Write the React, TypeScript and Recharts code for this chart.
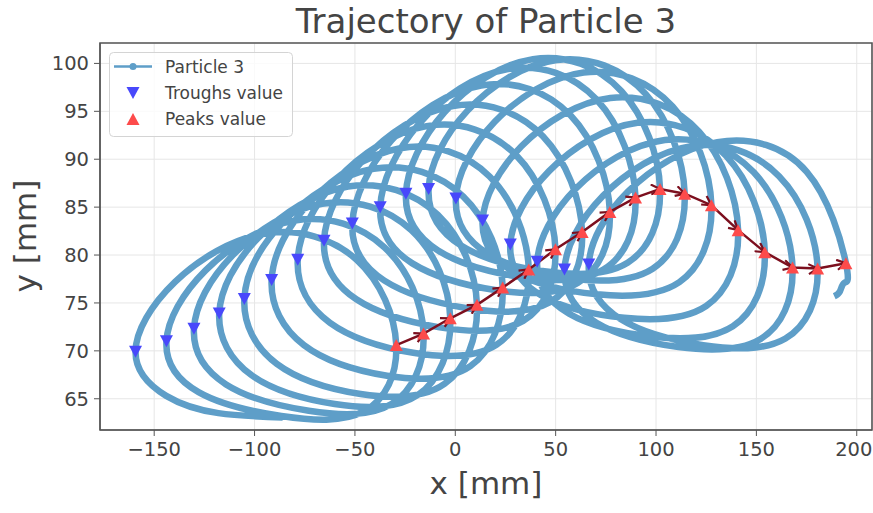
import React from "react";
import {
  ComposedChart,
  Line,
  Scatter,
  XAxis,
  YAxis,
  CartesianGrid,
  Legend,
  ReferenceArea,
} from "recharts";

// markers
const troughX = [-159.3, -143.9, -130.2, -117.6, -105.1, -91.5, -78.5, -65.4, -51.3, -37.4, -24.6, -13.3, 0.3, 13.6, 27.4, 40.8, 54.4, 66.5];
const troughY = [69.9, 71.0, 72.3, 73.9, 75.4, 77.4, 79.5, 81.5, 83.3, 85.0, 86.4, 86.9, 85.9, 83.6, 81.1, 79.3, 78.5, 79.0];
const peakX = [-29.4, -15.8, -2.5, 10.8, 23.6, 36.6, 49.9, 63.2, 77.0, 89.8, 102.0, 114.3, 127.6, 140.9, 154.2, 168.0, 180.5, 194.6];
const peakY = [70.6, 71.8, 73.4, 74.8, 76.6, 78.5, 80.6, 82.4, 84.5, 86.0, 86.9, 86.4, 85.2, 82.6, 80.3, 78.7, 78.6, 79.15];

// trajectory between markers: upper half of each loop (trough -> peak)
const topArcs = [
  [[-139.6, 77.2], [-94.35, 82.25], [-49.1, 79.5]],
  [[-124.4, 78.4], [-79.85, 83.6], [-35.3, 80.8]],
  [[-110.8, 80.0], [-66.35, 85.35], [-21.9, 82.6]],
  [[-98.1, 81.8], [-53.4, 87.15], [-8.7, 84.2]],
  [[-85.5, 83.5], [-40.75, 89.0], [4.0, 86.1]],
  [[-72.0, 85.6], [-27.45, 91.15], [17.1, 88.2]],
  [[-59.0, 87.85], [-14.3, 93.45], [30.4, 90.4]],
  [[-45.85, 89.95], [-1.1, 95.55], [43.65, 92.4]],
  [[-31.8, 91.96], [12.85, 97.7], [57.5, 94.56]],
  [[-18.1, 93.7], [26.2, 99.4], [70.5, 96.2]],
  [[-5.4, 94.9], [38.7, 100.45], [82.8, 97.1]],
  [[6.1, 95.07], [50.5, 100.35], [94.9, 96.8]],
  [[19.65, 93.9], [63.95, 99.05], [108.25, 95.5]],
  [[32.95, 91.35], [77.25, 96.4], [121.55, 92.85]],
  [[46.7, 88.76], [90.8, 93.8], [134.9, 90.36]],
  [[60.1, 86.94], [104.4, 92.0], [148.7, 88.64]],
  [[73.6, 86.18], [117.45, 91.35], [161.3, 88.23]],
  [[86.0, 86.62], [130.55, 91.78], [175.1, 88.69]],
];

// lower half of each loop (peak -> next trough)
const bottomArcs = [
  [[-45.4, 63.7], [-86.65, 63.2], [-127.9, 65.7]],
  [[-31.8, 64.45], [-73.0, 63.75], [-114.2, 66.5]],
  [[-18.6, 65.4], [-60.05, 64.45], [-101.5, 67.46]],
  [[-5.4, 66.55], [-47.15, 65.5], [-88.9, 68.65]],
  [[7.5, 68.4], [-33.95, 67.4], [-75.4, 70.6]],
  [[20.5, 70.63], [-20.95, 69.8], [-62.4, 72.93]],
  [[33.8, 73.13], [-7.75, 72.45], [-49.3, 75.38]],
  [[47.2, 75.08], [5.95, 74.45], [-35.3, 77.33]],
  [[61.0, 77.08], [19.8, 76.35], [-21.4, 79.13]],
  [[73.8, 78.48], [32.6, 77.7], [-8.6, 80.48]],
  [[85.85, 79.2], [44.35, 78.3], [2.85, 81.0]],
  [[98.35, 78.58], [57.3, 77.55], [16.3, 80.13]],
  [[111.65, 77.18], [70.6, 75.9], [29.6, 78.18]],
  [[125.0, 74.68], [84.15, 73.45], [43.3, 75.73]],
  [[138.3, 72.57], [97.5, 71.5], [56.7, 73.87]],
  [[152.1, 71.24], [111.2, 70.4], [70.3, 72.94]],
  [[164.5, 71.29], [123.5, 70.6], [82.5, 73.29]],
];

const startPath = [[-86, 63.05], [-118, 63.5], [-144, 65.3]];
const endPath = [[193.8, 77.1], [191.6, 76.2], [188.8, 75.7]];

const xTicks = [-150, -100, -50, 0, 50, 100, 150, 200];
const yTicks = [65, 70, 75, 80, 85, 90, 95, 100];
const xDomain = [-177, 207.6];
const yDomain = [61.74, 102.13];

const path: number[][] = [...startPath];
troughX.forEach((tx, i) => {
  path.push([tx, troughY[i]]);
  path.push(...topArcs[i]);
  path.push([peakX[i], peakY[i]]);
  if (bottomArcs[i]) path.push(...bottomArcs[i]);
});
path.push(...endPath);

const trajectory = path.map(([x, y]) => ({ x, y }));
const troughs = troughX.map((x, i) => ({ x, y: troughY[i] }));
const peaks = peakX.map((x, i) => ({ x, y: peakY[i] }));

const BLUE = "#5e9ec8";
const TROUGH = "#4848fb";
const PEAK = "#fd4b4b";
const ARROW = "#7c0f1e";
const TEXT = "#444444";
const FONT = "DejaVu Sans, sans-serif";

const fmt = (v: number) => String(v).replace("-", "\u2212");

// x tick text; the last label sits at the cropped right edge, keep it inside
const XTick = (p: any) => {
  const { x, y, payload } = p;
  const shift = payload.value === 200 ? -3 : 0;
  return (
    <text x={x + shift} y={y} dy="0.71em" textAnchor="middle" fill={TEXT} fontSize={19.5} fontFamily={FONT}>
      {fmt(payload.value)}
    </text>
  );
};

const Down = (p: any) => {
  const { cx, cy } = p;
  return <polygon points={`${cx - 6.5},${cy - 6} ${cx + 6.5},${cy - 6} ${cx},${cy + 6}`} fill={TROUGH} />;
};
const Up = (p: any) => {
  const { cx, cy } = p;
  return <polygon points={`${cx - 6.5},${cy + 6} ${cx + 6.5},${cy + 6} ${cx},${cy - 6}`} fill={PEAK} />;
};

const renderLegend = () => (
  <svg width={184} height={85} style={{ display: "block" }}>
    <rect x={0.5} y={0.5} width={183} height={84} rx={4} fill="rgba(255,255,255,0.8)" stroke="#d4d4d4" />
    <line x1={5} x2={43} y1={14.5} y2={14.5} stroke={BLUE} strokeWidth={2.5} />
    <circle cx={24} cy={14.5} r={3.5} fill={BLUE} />
    <polygon points="17.5,35 30.5,35 24,47" fill={TROUGH} />
    <polygon points="17.5,73 30.5,73 24,61" fill={PEAK} />
    <g fontFamily={FONT} fontSize={17} fill={TEXT}>
      <text x={56} y={14.5} dominantBaseline="central">Particle 3</text>
      <text x={56} y={41} dominantBaseline="central">Troughs value</text>
      <text x={56} y={67} dominantBaseline="central">Peaks value</text>
    </g>
  </svg>
);

export default function App() {
  return (
    <div style={{ position: "absolute", left: 0, top: 0, width: 873, height: 513, background: "#fff" }}>
      <svg width={0} height={0} style={{ position: "absolute" }}>
        <defs>
          <marker id="arrowHead" viewBox="0 0 12 12" refX={10} refY={6} markerWidth={12} markerHeight={12} markerUnits="userSpaceOnUse" orient="auto">
            <path d="M1,1 L10,6 L1,11" fill="none" stroke={ARROW} strokeWidth={2.2} />
          </marker>
        </defs>
      </svg>
      <ComposedChart width={873} height={513} margin={{ top: 43, right: 1, bottom: 0, left: 0 }}>
        <CartesianGrid stroke="#e6e6e6" strokeWidth={1} />
        <XAxis
          type="number"
          dataKey="x"
          domain={xDomain}
          ticks={xTicks}
          allowDataOverflow
          height={83}
          tickSize={6}
          tickMargin={6}
          stroke="#555"
          tick={<XTick />}
        />
        <YAxis
          type="number"
          dataKey="y"
          domain={yDomain}
          ticks={yTicks}
          allowDataOverflow
          width={100}
          tickSize={6}
          tickMargin={5}
          stroke="#555"
          tick={{ fill: TEXT, fontSize: 19.5, fontFamily: FONT }}
        />
        <ReferenceArea x1={xDomain[0]} x2={xDomain[1]} y1={yDomain[0]} y2={yDomain[1]} fill="none" stroke="#555" strokeWidth={1.6} ifOverflow="visible" />
        <Line data={trajectory} dataKey="y" type="natural" stroke={BLUE} strokeWidth={6.5} dot={false} isAnimationActive={false} />
        <Scatter data={troughs} shape={Down} isAnimationActive={false} />
        <Scatter data={peaks} shape={Up} isAnimationActive={false} />
        <Line
          data={peaks}
          dataKey="y"
          type="linear"
          stroke={ARROW}
          strokeWidth={2.5}
          dot={false}
          markerMid="url(#arrowHead)"
          markerEnd="url(#arrowHead)"
          isAnimationActive={false}
        />
        <Legend
          layout="vertical"
          align="center"
          verticalAlign="middle"
          content={renderLegend}
          wrapperStyle={{ position: "absolute", left: 109, top: 52, width: 184, height: 85 }}
        />
      </ComposedChart>
      <svg width={873} height={513} style={{ position: "absolute", left: 0, top: 0, pointerEvents: "none" }}>
        <g fontFamily={FONT} fill={TEXT}>
          <text x={486} y={33} textAnchor="middle" fontSize={34}>Trajectory of Particle 3</text>
          <text x={486} y={494} textAnchor="middle" fontSize={31}>x [mm]</text>
          <text transform="translate(36,236) rotate(-90)" textAnchor="middle" fontSize={31}>y [mm]</text>
        </g>
      </svg>
    </div>
  );
}
